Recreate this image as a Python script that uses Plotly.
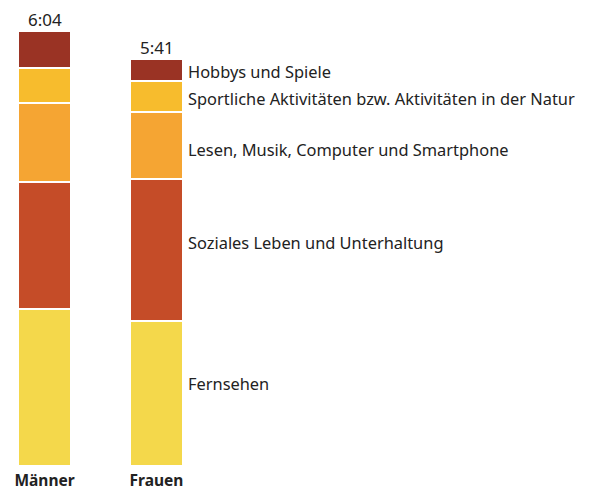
import plotly.graph_objects as go

groups = ["Männer", "Frauen"]
activities = [
    "Fernsehen",
    "Soziales Leben und Unterhaltung",
    "Lesen, Musik, Computer und Smartphone",
    "Sportliche Aktivitäten bzw. Aktivitäten in der Natur",
    "Hobbys und Spiele",
]
# minutes per day
fernsehen = [131, 121]
soziales = [107, 119]
lesen = [66, 56]
sport = [29, 26]
hobbys = [31, 19]

series = [fernsehen, soziales, lesen, sport, hobbys]
colors = ["#F4D84B", "#C54C28", "#F5A533", "#F7BC2D", "#9A3324"]
label_shift = [10, 8, -4, -2, -2]

xpos = [0, 1]
fig = go.Figure()
for name, vals, col in zip(activities, series, colors):
    fig.add_trace(go.Bar(
        x=xpos, y=vals, name=name, width=0.478,
        marker=dict(color=col, line=dict(color="white", width=2.5)),
        showlegend=False,
    ))

totals = [sum(s[i] for s in series) for i in range(2)]
font_family = "Noto Sans, Open Sans, sans-serif"
for i, t in enumerate(totals):
    fig.add_annotation(x=xpos[i], y=t, text=f"{t // 60}:{t % 60:02d}",
                       showarrow=False, yanchor="bottom", yshift=-2,
                       font=dict(size=17, color="#222", family=font_family))

# labels next to Frauen bar at segment midpoints
cum = 0
for name, vals, ys in zip(activities, series, label_shift):
    mid = cum + vals[1] / 2
    cum += vals[1]
    fig.add_annotation(x=1.265, y=mid, text=name, showarrow=False,
                       xanchor="left", yanchor="middle", yshift=ys,
                       font=dict(size=16.4, color="#222", family=font_family))

fig.update_layout(
    barmode="stack",
    width=585, height=482,
    margin=dict(l=0, r=0, t=0, b=24),
    plot_bgcolor="white", paper_bgcolor="white",
    bargap=0,
    xaxis=dict(range=[-0.326, 4.897], tickvals=xpos,
               ticktext=[f"<b>{g}</b>" for g in groups],
               showgrid=False, zeroline=False, showline=False, ticks="",
               ticklabelstandoff=3,
               tickfont=dict(size=15.5, color="#222", family=font_family)),
    yaxis=dict(range=[0, 383.3], visible=False),
)
fig.write_html("out.html")
